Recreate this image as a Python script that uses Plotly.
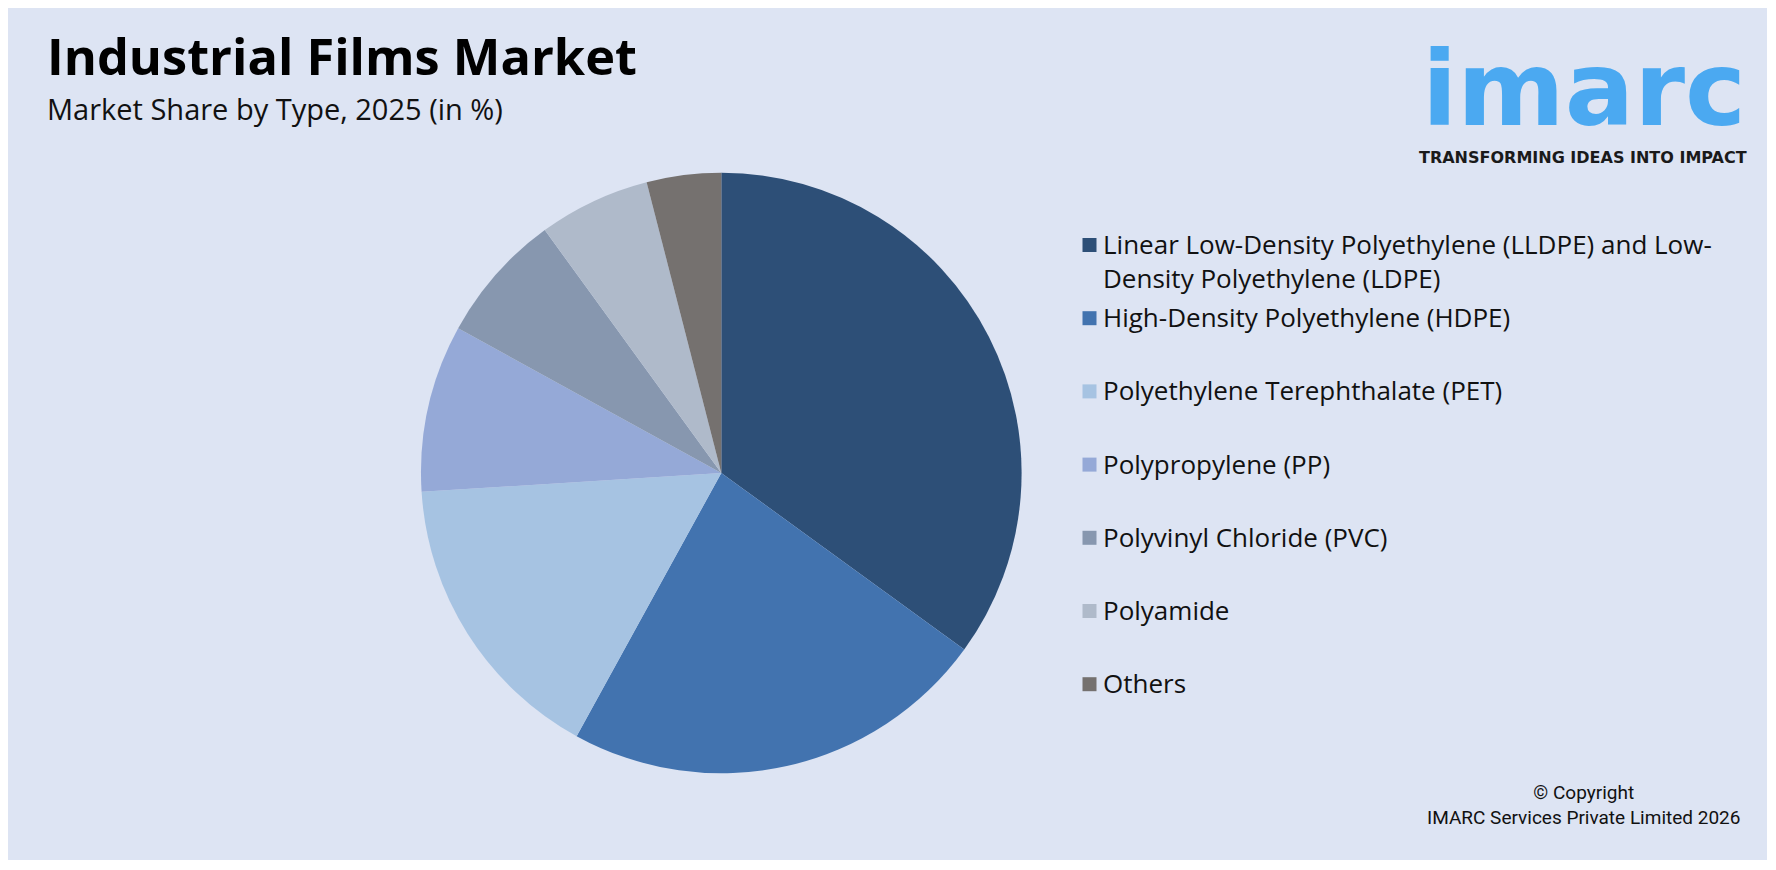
import plotly.graph_objects as go

# page body has an 8px margin; figure sized to fit the window
OFF = 8
W, H = 1776 - OFF, 870 - OFF

# ---- data ----
categories = [
    "Linear Low-Density Polyethylene (LLDPE) and Low-Density Polyethylene (LDPE)",
    "High-Density Polyethylene (HDPE)",
    "Polyethylene Terephthalate (PET)",
    "Polypropylene (PP)",
    "Polyvinyl Chloride (PVC)",
    "Polyamide",
    "Others",
]
legend_labels = [
    "Linear Low-Density Polyethylene (LLDPE) and Low-<br>Density Polyethylene (LDPE)",
    "High-Density Polyethylene (HDPE)",
    "Polyethylene Terephthalate (PET)",
    "Polypropylene (PP)",
    "Polyvinyl Chloride (PVC)",
    "Polyamide",
    "Others",
]
shares = [35, 23, 16, 9, 7, 6, 4]
colors = ["#2D4F77", "#4273AF", "#A6C3E2", "#95A9D7", "#8797AF", "#AFBACA", "#75716F"]

title = "Industrial Films Market"
subtitle = "Market Share by Type, 2025 (in %)"


def px(x):
    return (x - OFF) / W


def py(y):
    return 1 - (y - OFF) / H


fig = go.Figure()

# pie: centre (721.3, 473), radius 300 (window pixels)
cx, cy, r = 721.3, 473.0, 300.3
fig.add_trace(go.Pie(
    labels=categories,
    values=shares,
    marker=dict(colors=colors, line=dict(width=0)),
    sort=False,
    direction="clockwise",
    rotation=0,
    textinfo="none",
    hovertemplate="%{label}: %{value}%<extra></extra>",
    showlegend=False,
    domain=dict(x=[px(cx - r), px(cx + r)], y=[py(cy + r), py(cy - r)]),
))

shapes = [
    dict(type="rect", xref="paper", yref="paper", x0=0, x1=px(1767), y0=py(860), y1=1,
         fillcolor="#DDE4F3", line=dict(width=0), layer="below"),
]
annotations = []

# custom legend
leg_y0, leg_step = 245.0, 73.2
sq = 14
for i, (lab, col) in enumerate(zip(legend_labels, colors)):
    yc = leg_y0 + i * leg_step
    shapes.append(dict(type="rect", xref="paper", yref="paper",
                       x0=px(1082.5), x1=px(1082.5 + sq), y0=py(yc + sq / 2), y1=py(yc - sq / 2),
                       fillcolor=col, line=dict(width=0)))
    annotations.append(dict(xref="paper", yref="paper", x=px(1101), y=py(yc - 21),
                            xanchor="left", yanchor="top", align="left", showarrow=False,
                            text=lab, font=dict(family="Open Sans", size=26, color="#111111")))

# title & subtitle
annotations.append(dict(xref="paper", yref="paper", x=px(45), y=py(55), xanchor="left", yanchor="middle",
                        showarrow=False, text="<b>" + title + "</b>",
                        font=dict(family="Open Sans", size=50.5, color="#000000")))
annotations.append(dict(xref="paper", yref="paper", x=px(45), y=py(108), xanchor="left", yanchor="middle",
                        showarrow=False, text=subtitle,
                        font=dict(family="Open Sans", size=29, color="#111111")))

# logo
annotations.append(dict(xref="paper", yref="paper", x=px(1584), y=py(89), xanchor="center", yanchor="middle",
                        showarrow=False, text="<b>imarc</b>",
                        font=dict(family="DejaVu Sans", size=103, color="#4BA9F1")))
annotations.append(dict(xref="paper", yref="paper", x=px(1583), y=py(158), xanchor="center", yanchor="middle",
                        showarrow=False, text="<b>TRANSFORMING IDEAS INTO IMPACT</b>",
                        font=dict(family="DejaVu Sans", size=16, color="#1A1A1A")))

# copyright
annotations.append(dict(xref="paper", yref="paper", x=px(1583), y=py(805), xanchor="center", yanchor="middle",
                        showarrow=False, text="© Copyright<br>IMARC Services Private Limited 2026",
                        font=dict(family="Roboto", size=19, color="#111111")))

fig.update_layout(
    width=W, height=H,
    margin=dict(l=0, r=0, t=0, b=0),
    paper_bgcolor="#FFFFFF",
    plot_bgcolor="#FFFFFF",
    shapes=shapes,
    annotations=annotations,
    showlegend=False,
)

fig.write_html("out.html", config={"displayModeBar": False})
